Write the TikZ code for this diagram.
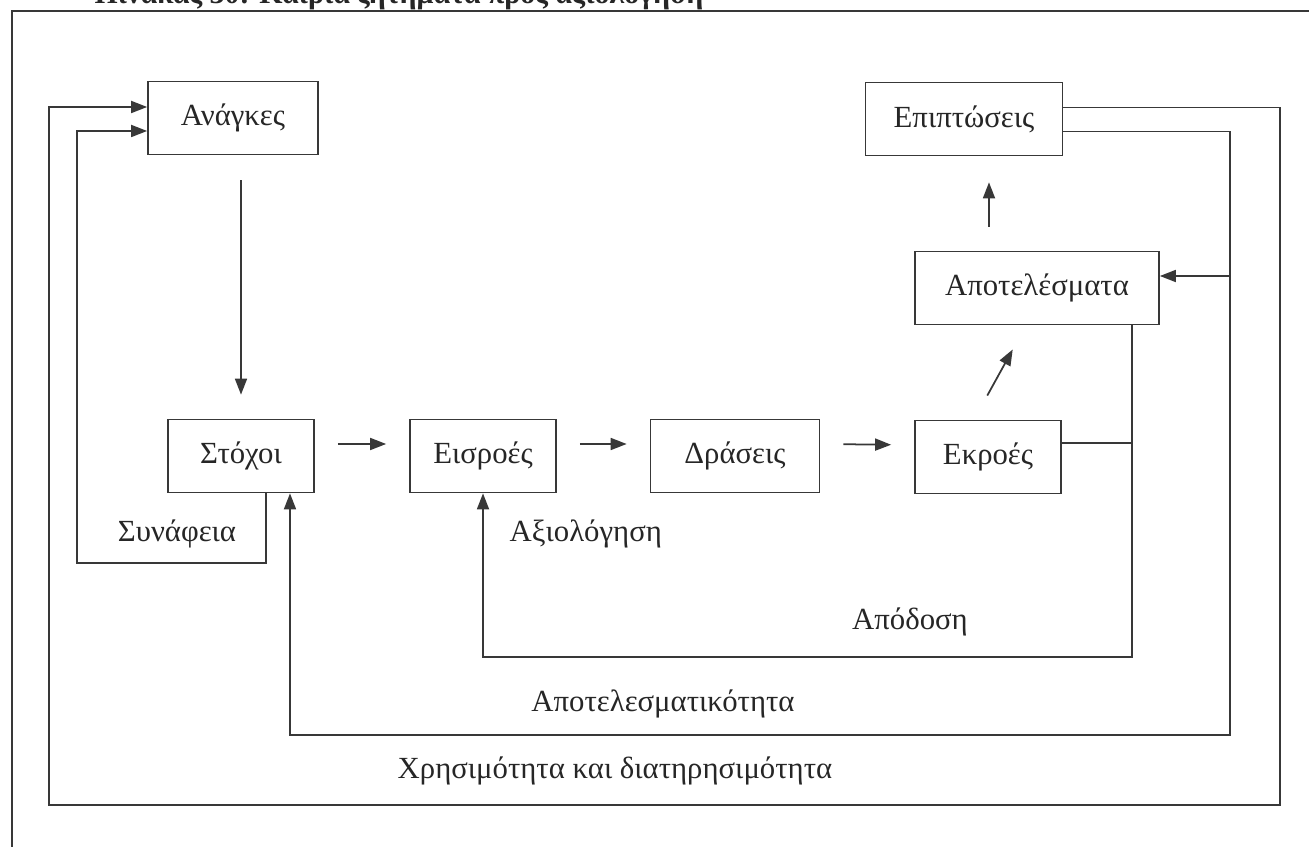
\documentclass[tikz,border=0pt]{standalone}
\usepackage{fontspec}
\setmainfont{Liberation Serif}
\usetikzlibrary{arrows.meta}

\begin{document}
\begin{tikzpicture}[x=0.02cm, y=-0.02cm, line width=1pt, color=black!78]
	  \tikzstyle{every node} = [font=\fontsize{17.5}{20}\selectfont, text=black!85]
	  \tikzstyle{box} = [draw, rectangle, minimum height=1.46cm, inner sep=0pt]
	  \tikzstyle{arr} = [-{Triangle[length=0.32cm, width=0.24cm]}]
	  \useasboundingbox (0,0) rectangle (1309,847);
	  \clip (0,0) rectangle (1309,847);
	  \node[anchor=base west, font=\fontsize{17}{20}\selectfont\bfseries] (title) at (88,4) {Πίνακας 30: Καίρια ζητήματα προς αξιολόγηση};
	  \draw (12,847) -- (12,11) -- (1309,11);
	  \node[box, minimum width=3.4cm] (anagkes) at (233,118) {Ανάγκες};
	  \node[box, minimum width=2.92cm] (stoxoi) at (241,456) {Στόχοι};
	  \node[box, minimum width=2.92cm] (eisroes) at (483,456) {Εισροές};
	  \node[box, minimum width=3.38cm] (draseis) at (735,456) {Δράσεις};
	  \node[box, minimum width=2.92cm] (ekroes) at (988,457) {Εκροές};
	  \node[box, minimum width=4.88cm] (apotel) at (1037,288) {Αποτελέσματα};
	  \node[box, minimum width=3.94cm] (epipt) at (964,119) {Επιπτώσεις};
	  \node (synafeia) at (177,534) {Συνάφεια};
	  \node[anchor=west] (axiologisi) at (503,534) {Αξιολόγηση};
	  \node (apodosi) at (910,622) {Απόδοση};
	  \node (apotelesmatikotita) at (663,704) {Αποτελεσματικότητα};
	  \node (xrisimotita) at (615,771) {Χρησιμότητα και διατηρησιμότητα};
	  \coordinate (bend1) at (1132,657);
	  \coordinate (bend2) at (1230,735);
	  \coordinate (bend3) at (1280,805);
	  \coordinate (bend4) at (49,805);
	  \coordinate (bend5) at (77,563);
	  \draw[arr, shorten <=0.5cm, shorten >=0.48cm] (anagkes.south -| stoxoi.north) -- (stoxoi.north);
	  \foreach \from/\to in {stoxoi/eisroes, eisroes/draseis, draseis/ekroes}
	    \draw[arr, shorten <=0.46cm, shorten >=0.46cm] ([yshift=0.24cm]\from.east) -- ([yshift=0.24cm]\to.west);
	  \draw[arr, shorten <=0.55cm, shorten >=0.55cm] ([xshift=-0.28cm]ekroes.north) -- ([xshift=-0.22cm]apotel.south);
	  \draw[arr, shorten <=0.48cm, shorten >=0.52cm] ([xshift=0.5cm]epipt.south |- apotel.north) -- ([xshift=0.5cm]epipt.south);
	  \draw ([yshift=0.28cm]ekroes.east) -- ([yshift=0.28cm]ekroes.east -| bend1);
	  \draw[arr] (apotel.south -| bend1) -- (bend1) -| (eisroes.south);
	  \draw[arr] ([yshift=-0.25cm]epipt.east) -| (bend2) -| ([xshift=0.98cm]stoxoi.south);
	  \draw[arr] ([yshift=0.24cm]apotel.east -| bend2) -- ([yshift=0.24cm]apotel.east);
	  \draw[arr] ([yshift=0.23cm]epipt.east) -| (bend3) -- (bend4) |- ([yshift=0.22cm]anagkes.west);
	  \draw[arr] ([xshift=0.5cm]stoxoi.south) |- (bend5) |- ([yshift=-0.26cm]anagkes.west);
	\end{tikzpicture}
\end{document}
